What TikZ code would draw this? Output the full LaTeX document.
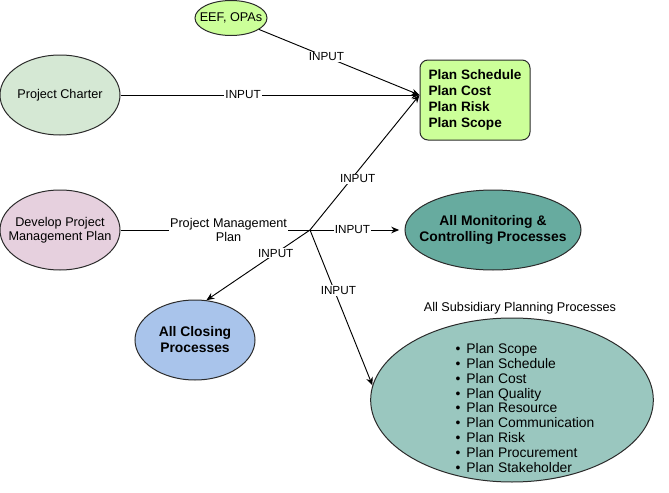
\documentclass[tikz,border=0pt]{standalone}
\usepackage{fontspec}
\setmainfont{Liberation Sans}
\usetikzlibrary{shapes.geometric,arrows.meta}
\definecolor{limefill}{HTML}{CCFF99}
\definecolor{charterfill}{HTML}{D5E8D4}
\definecolor{devfill}{HTML}{E6D0DE}
\definecolor{monitfill}{HTML}{67AB9F}
\definecolor{closefill}{HTML}{A9C4EB}
\definecolor{subfill}{HTML}{9AC7BF}
\definecolor{edgegray}{HTML}{2B2B2B}

\begin{document}
\begin{tikzpicture}[x=0.75pt,y=-0.75pt]
  \tikzstyle{every node}=[font=\fontsize{9.5}{10.5}\selectfont]
  \tikzstyle{proc}=[ellipse,draw=edgegray,line width=0.75pt,inner sep=0pt]
  \tikzstyle{reg txt}=[align=center,font=\fontsize{9.5}{10.5}\selectfont]
  \tikzstyle{bold txt}=[align=center,font=\fontsize{10.4}{12}\selectfont\bfseries]
  \tikzstyle{flow}=[line width=0.7pt,-{Stealth[length=6pt,width=5pt,inset=2pt]}]
  \tikzstyle{input}=[fill=white,inner sep=0.8pt,font=\fontsize{8.8}{9}\selectfont]
  \useasboundingbox (0,0) rectangle (669,493);

  % sources
  \node[proc,fill=limefill,minimum width=54pt,minimum height=26.25pt,
        label={[reg txt]center:EEF, OPAs}] (eef) at (231,18) {};
  \node[proc,fill=charterfill,minimum width=90pt,minimum height=60pt,
        label={[reg txt]center:Project Charter}] (charter) at (60,95) {};
  \node[proc,fill=devfill,minimum width=90pt,minimum height=60pt,
        label={[reg txt]center:{Develop Project\\Management Plan}}] (dev) at (60,230) {};

  % targets
  \node[draw=edgegray,fill=limefill,rounded corners=6pt,line width=0.75pt,
        minimum width=82.5pt,minimum height=60pt,align=left,
        font=\fontsize{10.2}{12}\selectfont\bfseries] (plans) at (475,100)
        {Plan Schedule\\Plan Cost\\Plan Risk\\Plan Scope};
  \node[proc,fill=monitfill,minimum width=132pt,minimum height=60pt,
        label={[bold txt]center:{All Monitoring \&\\Controlling Processes}}] (monit) at (493,230) {};
  \node[proc,fill=closefill,minimum width=90pt,minimum height=60pt,
        label={[bold txt]center:{All Closing\\Processes}}] (closing) at (195,340) {};
  \node[proc,fill=subfill,minimum width=212pt,minimum height=123pt] (sub) at (512,400) {};
  \node (subhead) at (520,308) {All Subsidiary Planning Processes};
  \node[align=left,font=\fontsize{10.4}{11.2}\selectfont] (sublist) at (525,408)
    {\textbullet\hspace{4.5pt}Plan Scope\\
     \textbullet\hspace{4.5pt}Plan Schedule\\
     \textbullet\hspace{4.5pt}Plan Cost\\
     \textbullet\hspace{4.5pt}Plan Quality\\
     \textbullet\hspace{4.5pt}Plan Resource\\
     \textbullet\hspace{4.5pt}Plan Communication\\
     \textbullet\hspace{4.5pt}Plan Risk\\
     \textbullet\hspace{4.5pt}Plan Procurement\\
     \textbullet\hspace{4.5pt}Plan Stakeholder};

  \coordinate (hub) at (310,230);
  \coordinate (tip) at ([yshift=3.75pt]plans.west);

  % connectors
  \draw[flow] (eef) -- node[input,pos=0.42] {INPUT} (tip);
  \draw[flow] (charter) -- node[input,pos=0.41] {INPUT} (tip);
  \draw[line width=0.7pt] (dev) -- node[pos=0.57,fill=white,inner sep=0.8pt,align=center]
    {Project Management\\Plan} (hub);
  \draw[flow] (hub) -- node[input,pos=0.38,xshift=4.5pt] {INPUT} (tip);
  \draw[flow,shorten >=4pt] (hub) -- node[input,pos=0.45] {INPUT} (monit);
  \draw[flow] (hub) -- node[input,pos=0.33] {INPUT} (closing.74);
  \draw[flow] (hub) -- node[input,pos=0.39,xshift=3pt] {INPUT} (sub.174);
\end{tikzpicture}
\end{document}
